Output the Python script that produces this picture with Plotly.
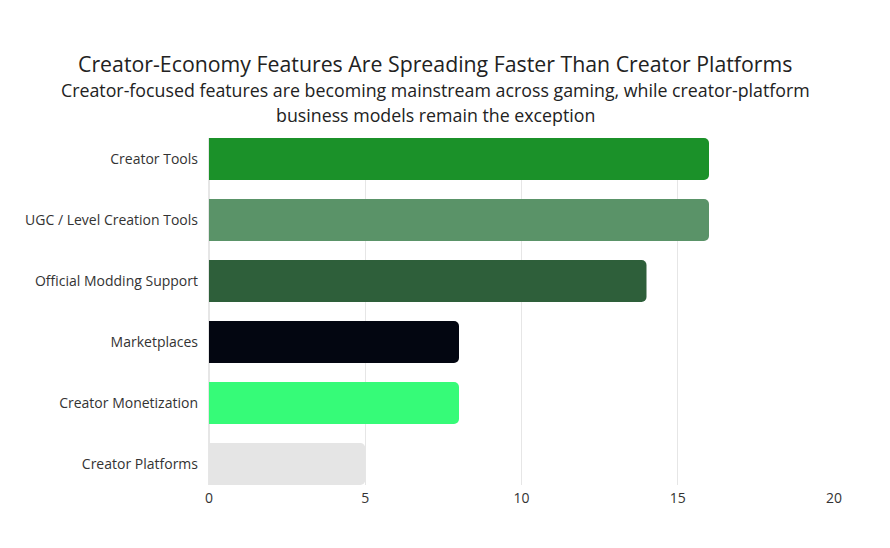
import plotly.graph_objects as go

categories = ["Creator Tools", "UGC / Level Creation Tools", "Official Modding Support",
              "Marketplaces", "Creator Monetization", "Creator Platforms"]
values = [16, 16, 14, 8, 8, 5]
colors = ["#1b9129", "#5a9368", "#2e5f3a", "#030611", "#36fb78", "#e5e5e5"]
x_ticks = [0, 5, 10, 15, 20]

title = "Creator-Economy Features Are Spreading Faster Than Creator Platforms"
subtitle_lines = ["Creator-focused features are becoming mainstream across gaming, while creator-platform",
                  "business models remain the exception"]

BAR_W = 0.69

fig = go.Figure(go.Bar(
    y=categories, x=values, orientation="h",
    marker=dict(color=colors, line=dict(width=0)),
    width=BAR_W,
))

annotations = [
    dict(text=title, xref="paper", yref="paper", x=0.362, y=1.0,
         xanchor="center", yanchor="middle", yshift=75, showarrow=False,
         font=dict(size=21.3, color="#222222")),
]
for i, line in enumerate(subtitle_lines):
    annotations.append(
        dict(text=line, xref="paper", yref="paper", x=0.362, y=1.0,
             xanchor="center", yanchor="middle", yshift=48 - 25 * i, showarrow=False,
             font=dict(size=17.8, color="#222222")))

fig.update_layout(
    width=890, height=548,
    paper_bgcolor="white", plot_bgcolor="white",
    margin=dict(l=201, r=64, t=130, b=71),
    font=dict(family="Open Sans", color="#333333", size=14),
    barcornerradius=5,
    showlegend=False,
    annotations=annotations,
)
fig.update_xaxes(range=[0, 20], tickvals=x_ticks, showgrid=True, gridcolor="#e6e6e6",
                 zeroline=True, zerolinecolor="#e6e6e6", ticks="", showline=False,
                 automargin=False, ticklabelstandoff=3,
                 tickfont=dict(size=14, color="#333333"))
fig.update_yaxes(range=[len(categories) - 1 + BAR_W / 2, -BAR_W / 2],
                 ticks="", showgrid=False, automargin=False,
                 ticklabelstandoff=10, tickfont=dict(size=14, color="#333333"))

fig.write_html("out.html")
